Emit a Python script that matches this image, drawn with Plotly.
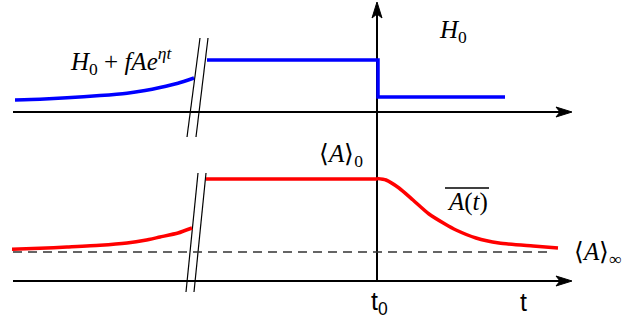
import plotly.graph_objects as go

# ---- data (diagram units: x to the right, y downward, matching the frame) ----
# upper panel: field H(t)
h_ramp_x = [15, 40, 67, 100, 127, 145, 160, 178, 194]
h_ramp_y = [100, 99.3, 97.8, 95.6, 93.2, 90.5, 87.5, 83.2, 78]
h_step_x = [207, 378, 378, 505]
h_step_y = [60, 60, 97, 97]

# lower panel: response A(t)
a_ramp_x = [12, 40, 67, 100, 127, 145, 160, 178, 192]
a_ramp_y = [249.3, 248.3, 247, 245.3, 243, 240.3, 237, 233, 228]
a_flat_x = [206, 377]
a_flat_y = [179, 179]
a_decay_x = [377, 386, 399, 413, 429, 445, 456, 476, 499, 533, 558]
a_decay_y = [178.5, 180, 188, 200, 214, 224, 230, 238, 243, 246, 248]
a_inf_x = [13, 553]
a_inf_y = [252, 252]

# axes
top_axis_x = [13, 560]
top_axis_y = [112, 112]
bot_axis_x = [13, 560]
bot_axis_y = [281, 281]
v_axis_x = [377, 377]
v_axis_y = [14, 282]

# axis break marks
brk_up = [([200, 187], [38, 137]), ([208, 196], [38, 137])]
brk_lo = [([198, 186], [173, 292]), ([206, 194], [173, 292])]

# labels
label_x = [121, 453, 341, 467, 598, 379, 523]
label_y = [61, 31, 155, 202, 253, 303, 302]
label_text = [
    "<i>H</i><sub>0</sub> + <i>fAe</i><sup><i>ηt</i></sup>",
    "<i>H</i><sub>0</sub>",
    "⟨<i>A</i>⟩<sub>0</sub>",
    "<i>A</i>(<i>t</i>)",
    "⟨<i>A</i>⟩<sub>∞</sub>",
    "t<sub>0</sub>",
    "t",
]
label_serif = [True, True, True, True, True, False, False]

fig = go.Figure()


def smooth(x, y, color, width):
    fig.add_trace(go.Scatter(x=x, y=y, mode="lines", hoverinfo="skip",
                             line=dict(color=color, width=width,
                                       shape="spline", smoothing=0.6)))


def poly(x, y, color, width, dash=None):
    fig.add_trace(go.Scatter(x=x, y=y, mode="lines", hoverinfo="skip",
                             line=dict(color=color, width=width, dash=dash)))


# axes
poly(top_axis_x, top_axis_y, "black", 2)
poly(bot_axis_x, bot_axis_y, "black", 2)
poly(v_axis_x, v_axis_y, "black", 2)


# arrowheads
def head(tip, direction):
    tx, ty = tip
    if direction == "right":
        xs = [tx, tx - 16, tx - 12, tx - 16, tx]
        ys = [ty, ty - 5, ty, ty + 5, ty]
    else:
        xs = [tx, tx - 5, tx, tx + 5, tx]
        ys = [ty, ty + 16, ty + 12, ty + 16, ty]
    fig.add_trace(go.Scatter(x=xs, y=ys, mode="lines", fill="toself",
                             fillcolor="black", hoverinfo="skip",
                             line=dict(color="black", width=1)))


head((572, 112), "right")
head((572, 281), "right")
head((377, 2), "up")

# break marks
for bx, by in brk_up + brk_lo:
    poly(bx, by, "black", 1.2)

# dashed asymptote
poly(a_inf_x, a_inf_y, "#333333", 1.5, dash="9px,6px")

# curves
smooth(h_ramp_x, h_ramp_y, "#0000ff", 3.5)
poly(h_step_x, h_step_y, "#0000ff", 3.5)
smooth(a_ramp_x, a_ramp_y, "#ff0000", 3.5)
poly(a_flat_x, a_flat_y, "#ff0000", 3.5)
smooth(a_decay_x, a_decay_y, "#ff0000", 3.5)

# overline of A(t)
poly([445, 489], [188, 188], "black", 1.3)

for lx, ly, lt, is_serif in zip(label_x, label_y, label_text, label_serif):
    family = "Liberation Serif" if is_serif else "Liberation Sans"
    fig.add_annotation(x=lx, y=ly, text=lt, showarrow=False,
                       font=dict(family=family, size=25, color="black"),
                       xanchor="center", yanchor="middle")

fig.update_layout(
    width=632, height=330, margin=dict(l=0, r=0, t=0, b=0),
    paper_bgcolor="white", plot_bgcolor="white", showlegend=False,
    xaxis=dict(range=[0, 632], visible=False, fixedrange=True),
    yaxis=dict(range=[330, 0], visible=False, fixedrange=True),
)
fig.write_html("out.html", config={"displayModeBar": False})
